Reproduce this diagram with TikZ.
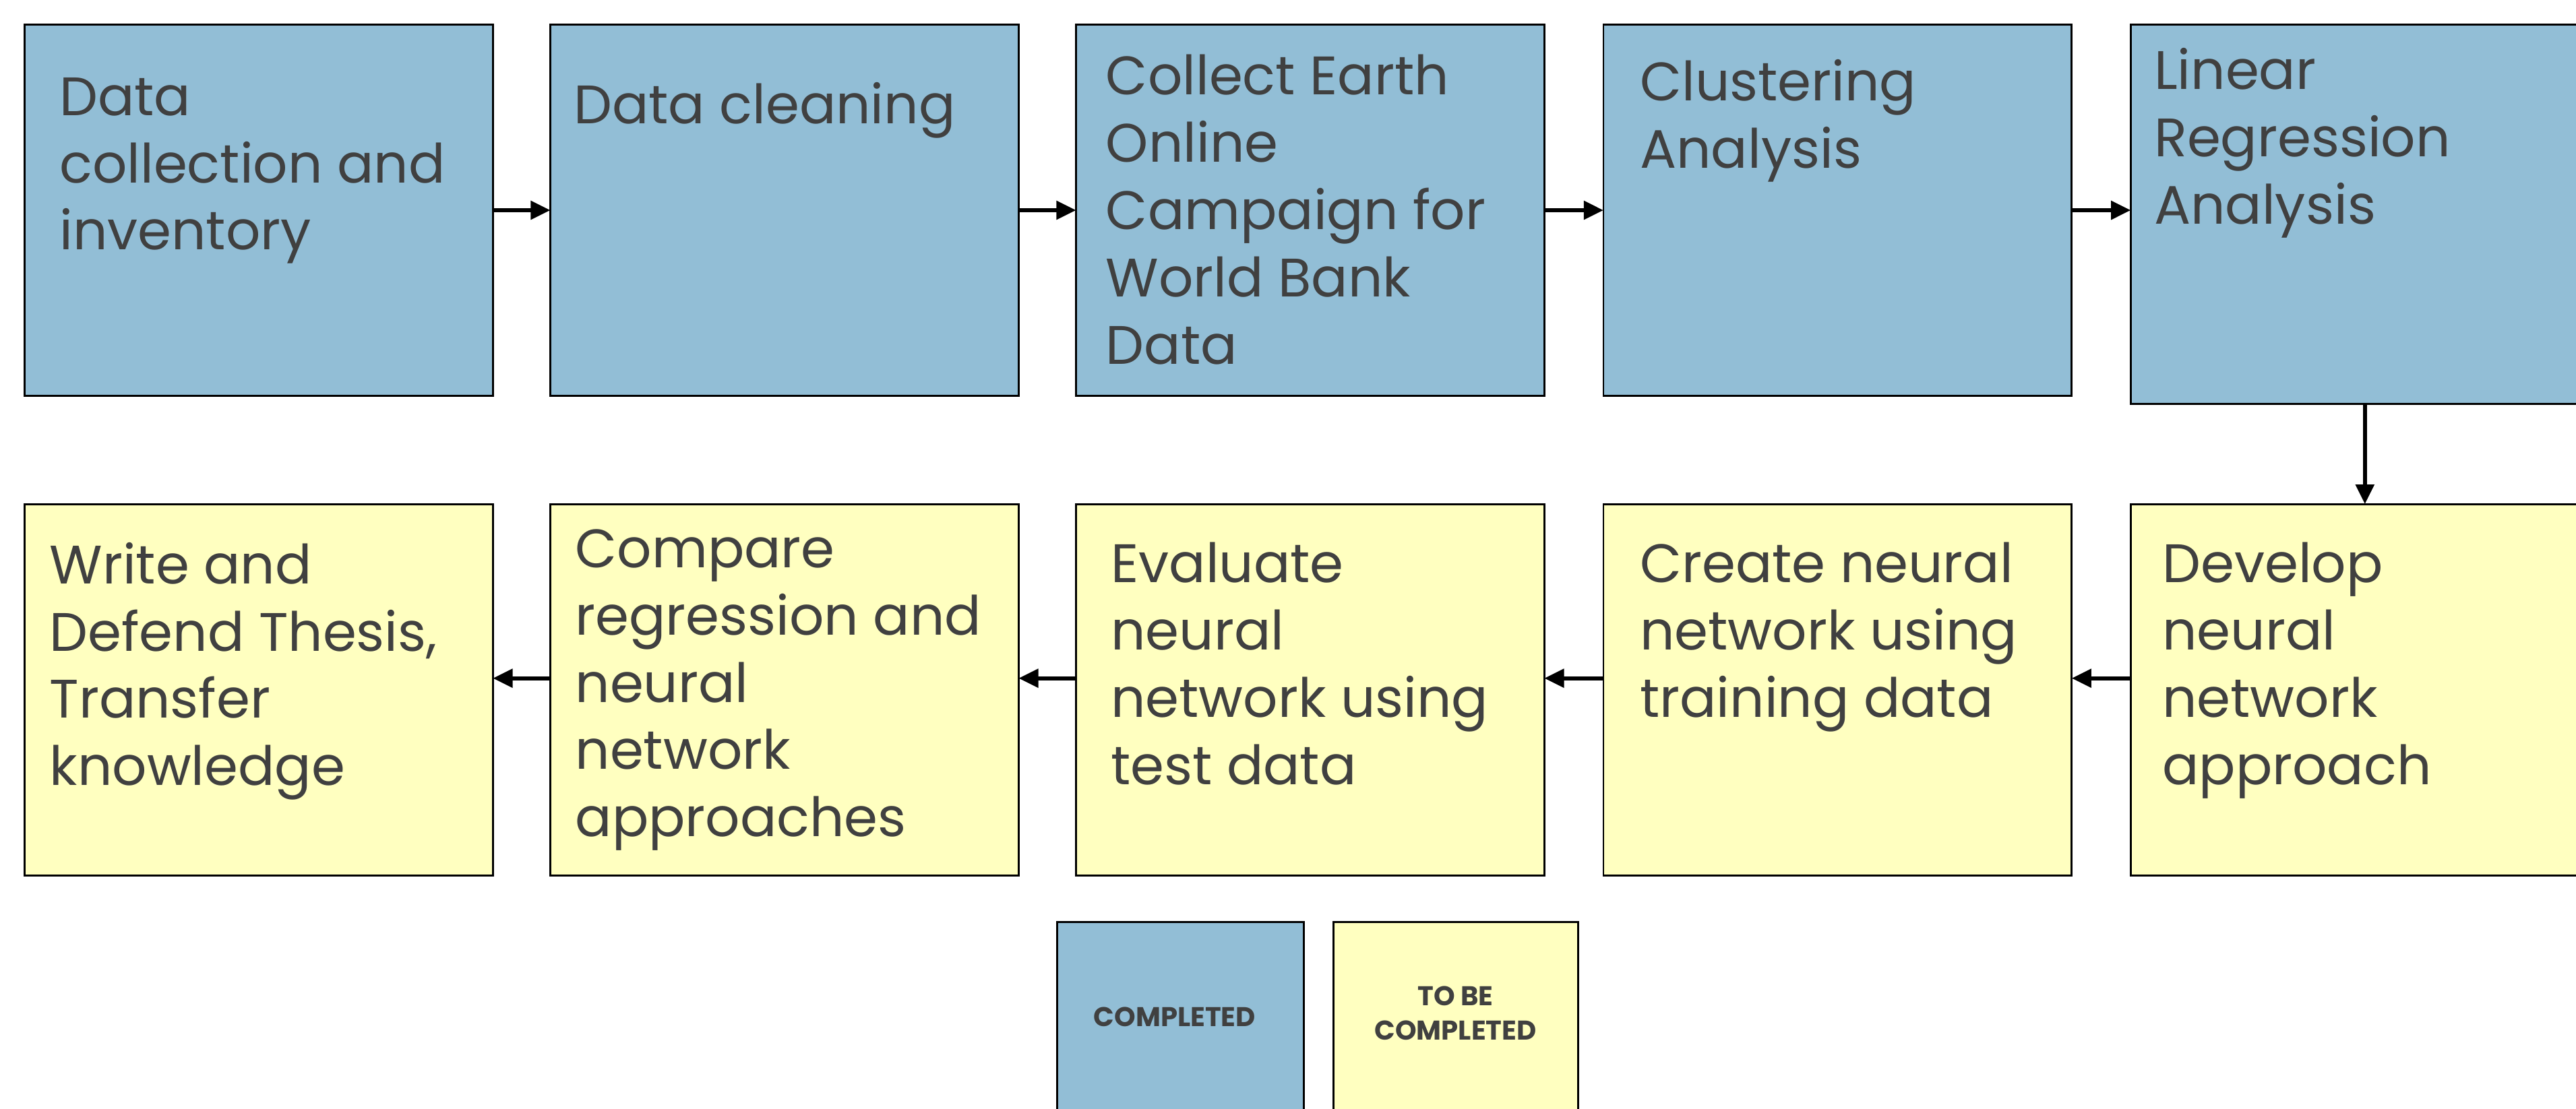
\documentclass[tikz,border=0pt]{standalone}
\usepackage{fontspec}
\setmainfont{Poppins}
\usetikzlibrary{arrows.meta}
\definecolor{cblue}{RGB}{146,190,214}
\definecolor{cyel}{RGB}{255,255,192}
\definecolor{txt}{RGB}{64,64,64}
\tikzset{
 box/.style={draw=black, line width=1.2pt, minimum width=285pt, minimum height=226pt, anchor=north west, inner sep=0pt, outer sep=0pt},
 done/.style={box, fill=cblue},
 todo/.style={box, fill=cyel},
 lbl/.style={anchor=north west, align=left, text=txt, font=\fontsize{33}{41}\selectfont, inner sep=0pt},
 leg/.style={anchor=north west, draw=black, line width=1.2pt, minimum width=150pt, minimum height=140pt, inner sep=0pt},
 legtxt/.style={align=center, text=txt, font=\bfseries\fontsize{16.5}{21}\selectfont, inner sep=0pt},
 arr/.style={-{Triangle[length=12pt,width=11pt]}, line width=2.6pt, black}
}
\begin{document}
\begin{tikzpicture}[x=1pt,y=-1pt]
\useasboundingbox (0,0) rectangle (1568,675);
\clip (0,0) rectangle (1568,675);
% row 1
\node[done] (b1) at (15,15) {};
\node[done] (b2) at (335,15) {};
\node[done] (b3) at (655,15) {};
\node[done] (b4) at (976,15) {};
\node[done, minimum height=231pt] (b5) at (1297,15) {};
% row 2
\node[todo] (b6) at (15,307) {};
\node[todo] (b7) at (335,307) {};
\node[todo] (b8) at (655,307) {};
\node[todo] (b9) at (976,307) {};
\node[todo] (b10) at (1297,307) {};
% texts
\node[lbl] (t1) at (36,47) {Data\\collection and\\inventory};
\node[lbl] (t2) at (349,50) {Data cleaning};
\node[lbl] (t3) at (673,33) {Collect Earth\\Online\\Campaign for\\World Bank\\Data};
\node[lbl] (t4) at (998,36) {Clustering\\Analysis};
\node[lbl] (t5) at (1311,29) {Linear\\Regression\\Analysis};
\node[lbl] (t6) at (30,330) {Write and\\Defend Thesis,\\Transfer\\knowledge};
\node[lbl] (t7) at (350,322) {Compare\\regression and\\neural\\network\\approaches};
\node[lbl] (t8) at (676,330) {Evaluate\\neural\\network using\\test data};
\node[lbl] (t9) at (998,330) {Create neural\\network using\\training data};
\node[lbl] (t10) at (1316,330) {Develop\\neural\\network\\approach};
% arrows
\draw[arr] (b1.east) -- (b2.west);
\draw[arr] (b2.east) -- (b3.west);
\draw[arr] (b3.east) -- (b4.west);
\draw[arr] (b4.east) -- (b4.east -| b5.west);
\draw[arr] (b5.south) -- (b10.north);
\draw[arr] ([yshift=7pt]b10.west) -- ([yshift=7pt]b9.east);
\draw[arr] ([yshift=7pt]b9.west) -- ([yshift=7pt]b8.east);
\draw[arr] ([yshift=7pt]b8.west) -- ([yshift=7pt]b7.east);
\draw[arr] ([yshift=7pt]b7.west) -- ([yshift=7pt]b6.east);
% legend
\node[leg, fill=cblue] (l1) at (643,561) {};
\node[leg, fill=cyel, minimum width=149pt] (l2) at (811,561) {};
\node[legtxt] (lt1) at (715,619) {COMPLETED};
\node[legtxt] (lt2) at (886,617) {TO BE\\COMPLETED};
\end{tikzpicture}
\end{document}
